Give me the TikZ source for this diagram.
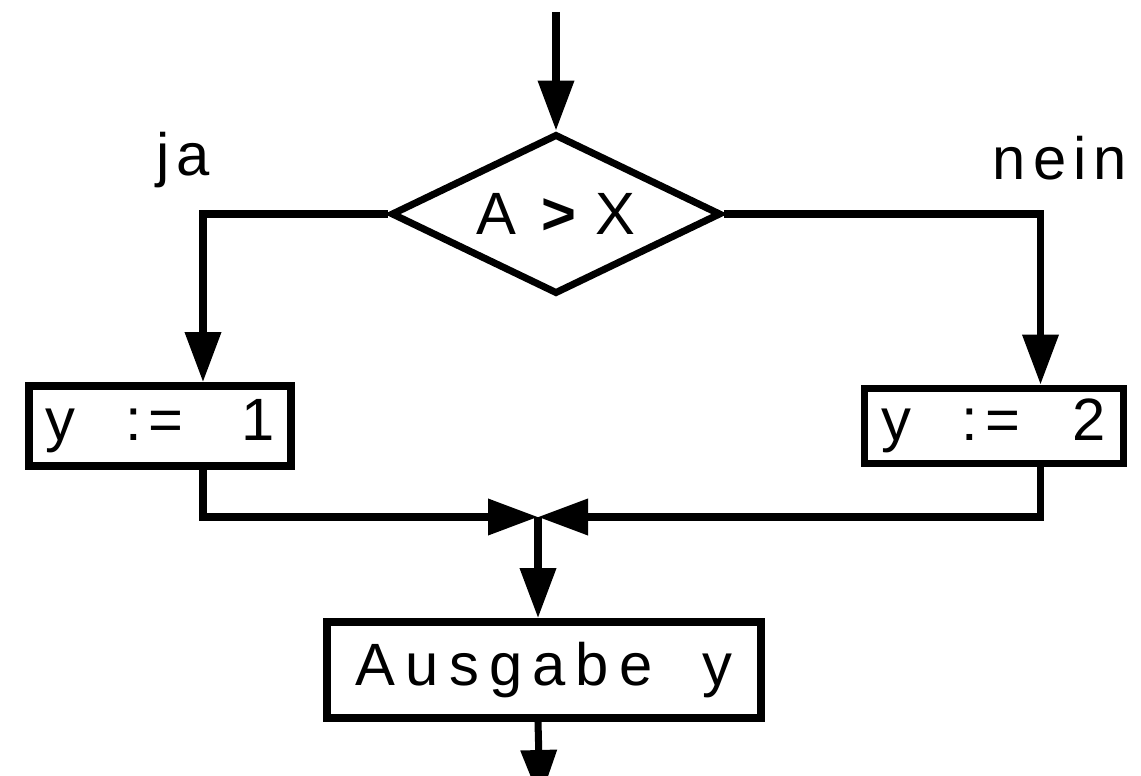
\documentclass[tikz,border=0pt]{standalone}
\usepackage{fontspec}
\setmainfont{Liberation Sans}
\usetikzlibrary{arrows.meta,shapes.geometric}
\def\drawflow{\draw[line width=4pt, -{Triangle[length=1cm,width=0.7cm]}]}
\def\stepnode{\node[draw, line width=4.5pt, inner sep=0pt, font=\fontsize{34}{40}\selectfont\addfontfeature{LetterSpace=12}]}
\def\testnode{\node[diamond, aspect=2, draw, line width=4pt, inner sep=0pt, font=\fontsize{34}{40}\selectfont]}
\def\labnode{\node[font=\fontsize{34}{40}\selectfont\addfontfeature{LetterSpace=12}]}

\begin{document}
\begin{tikzpicture}[x=0.02cm,y=-0.02cm]
\useasboundingbox (0,0) rectangle (1141,776);
\coordinate (start) at (556,12);
\testnode[minimum width=6.6cm, minimum height=3.2cm] (test) at (556,214) {A\hspace{0.5cm}{\bfseries >}\hspace{0.4cm}X};
\labnode (ja) at (183,160) {ja};
\labnode (nein) at (1060,158) {nein};
\stepnode[minimum width=5.24cm, minimum height=1.6cm] (yes) at (160,426) {y\hspace{1cm}:=\hspace{1.15cm}1};
\stepnode[minimum width=5.18cm, minimum height=1.5cm] (no) at (994,426) {y\hspace{1cm}:=\hspace{1.05cm}2};
\coordinate (merge) at (538,517);
\stepnode[minimum width=8.68cm, minimum height=1.92cm, font=\fontsize{34}{40}\selectfont\addfontfeature{LetterSpace=17}] (out) at (544,670) {Ausgabe\hspace{1cm}y};
\coordinate (exit) at (540,800);
\drawflow (start) -- (test.north);
\drawflow (test.west) -| ([xshift=0.86cm]yes.north);
\drawflow (test.east) -| ([xshift=0.93cm]no.north);
\drawflow ([xshift=0.86cm]yes.south) |- (merge);
\drawflow ([xshift=0.93cm]no.south) |- (merge);
\drawflow (merge) -- (merge |- out.north);
\drawflow (merge |- out.south) -- (exit);
\end{tikzpicture}
\end{document}
